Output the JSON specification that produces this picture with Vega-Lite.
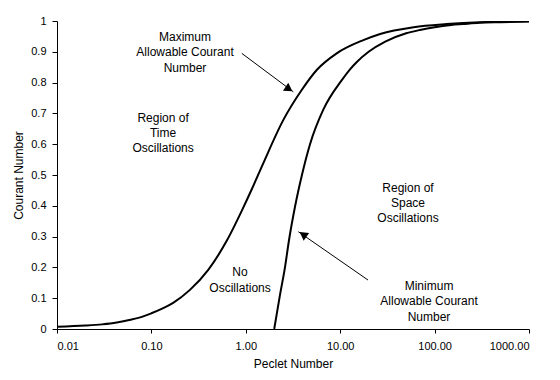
{
  "$schema": "https://vega.github.io/schema/vega-lite/v6.json",
  "width": 472,
  "height": 308,
  "autosize": "none",
  "padding": {"left": 57, "top": 21, "right": 31, "bottom": 51},
  "background": "white",
  "config": {
    "view": {"stroke": null},
    "font": "Liberation Sans",
    "axis": {
      "domainColor": "black", "tickColor": "black", "labelColor": "black", "titleColor": "black",
      "labelFont": "Liberation Sans", "titleFont": "Liberation Sans",
      "labelFontSize": 11, "titleFontSize": 12, "titleFontWeight": "normal",
      "grid": false, "domainWidth": 1, "tickWidth": 1, "labelOverlap": false
    }
  },
  "datasets": {
    "curves": [
      {"g": "max", "P": 0.01, "C": 0.007},
      {"g": "max", "P": 0.02, "C": 0.011},
      {"g": "max", "P": 0.03, "C": 0.015},
      {"g": "max", "P": 0.043, "C": 0.021},
      {"g": "max", "P": 0.06, "C": 0.03},
      {"g": "max", "P": 0.082, "C": 0.041},
      {"g": "max", "P": 0.1, "C": 0.051},
      {"g": "max", "P": 0.13, "C": 0.066},
      {"g": "max", "P": 0.17, "C": 0.085},
      {"g": "max", "P": 0.256, "C": 0.127},
      {"g": "max", "P": 0.4, "C": 0.192},
      {"g": "max", "P": 0.63, "C": 0.287},
      {"g": "max", "P": 0.94, "C": 0.394},
      {"g": "max", "P": 1.15, "C": 0.452},
      {"g": "max", "P": 1.53, "C": 0.538},
      {"g": "max", "P": 2.5, "C": 0.679},
      {"g": "max", "P": 3.91, "C": 0.776},
      {"g": "max", "P": 5.64, "C": 0.841},
      {"g": "max", "P": 9.18, "C": 0.895},
      {"g": "max", "P": 17.6, "C": 0.938},
      {"g": "max", "P": 26.5, "C": 0.958},
      {"g": "max", "P": 60, "C": 0.98},
      {"g": "max", "P": 134, "C": 0.99},
      {"g": "max", "P": 300, "C": 0.996},
      {"g": "max", "P": 1000, "C": 0.999},
      {"g": "min", "P": 2.0, "C": 0.0},
      {"g": "min", "P": 2.3, "C": 0.11},
      {"g": "min", "P": 2.6, "C": 0.2},
      {"g": "min", "P": 2.87, "C": 0.289},
      {"g": "min", "P": 3.32, "C": 0.397},
      {"g": "min", "P": 3.91, "C": 0.497},
      {"g": "min", "P": 4.79, "C": 0.6},
      {"g": "min", "P": 6.62, "C": 0.712},
      {"g": "min", "P": 10.4, "C": 0.808},
      {"g": "min", "P": 12.7, "C": 0.843},
      {"g": "min", "P": 15, "C": 0.867},
      {"g": "min", "P": 20, "C": 0.9},
      {"g": "min", "P": 30, "C": 0.933},
      {"g": "min", "P": 50, "C": 0.96},
      {"g": "min", "P": 70, "C": 0.971},
      {"g": "min", "P": 100, "C": 0.98},
      {"g": "min", "P": 150, "C": 0.987},
      {"g": "min", "P": 200, "C": 0.99},
      {"g": "min", "P": 300, "C": 0.994},
      {"g": "min", "P": 500, "C": 0.996},
      {"g": "min", "P": 1000, "C": 0.998}
    ],
    "labels": [
      {"P": 0.227, "C": 0.948, "t": "Maximum"},
      {"P": 0.227, "C": 0.899, "t": "Allowable Courant"},
      {"P": 0.227, "C": 0.849, "t": "Number"},
      {"P": 0.133, "C": 0.685, "t": "Region of"},
      {"P": 0.133, "C": 0.636, "t": "Time"},
      {"P": 0.133, "C": 0.588, "t": "Oscillations"},
      {"P": 0.869, "C": 0.185, "t": "No"},
      {"P": 0.869, "C": 0.133, "t": "Oscillations"},
      {"P": 52.3, "C": 0.458, "t": "Region of"},
      {"P": 52.3, "C": 0.409, "t": "Space"},
      {"P": 52.3, "C": 0.360, "t": "Oscillations"},
      {"P": 87.3, "C": 0.140, "t": "Minimum"},
      {"P": 87.3, "C": 0.091, "t": "Allowable Courant"},
      {"P": 87.3, "C": 0.039, "t": "Number"}
    ],
    "arrows": [
      {"g": "max", "P": 0.906, "C": 0.895},
      {"g": "max", "P": 3.19, "C": 0.77},
      {"g": "min", "P": 19.7, "C": 0.159},
      {"g": "min", "P": 3.6, "C": 0.316}
    ],
    "heads": [
      {"P": 2.87, "C": 0.779, "ang": 124},
      {"P": 4.04, "C": 0.307, "ang": 305}
    ]
  },
  "encoding": {
    "x": {
      "field": "P", "type": "quantitative",
      "scale": {"type": "log", "domain": [0.01, 1000], "nice": false},
      "axis": {
        "values": [0.01, 0.1, 1, 10, 100, 1000], "format": ".2f", "labelOverlap": false,
        "title": "Peclet Number", "tickSize": 4, "labelPadding": 7, "titlePadding": 7
      }
    },
    "y": {
      "field": "C", "type": "quantitative",
      "scale": {"domain": [0, 1], "nice": false},
      "axis": {
        "values": [0, 0.1, 0.2, 0.3, 0.4, 0.5, 0.6, 0.7, 0.8, 0.9, 1],
        "format": "~g", "labelOverlap": false,
        "title": "Courant Number", "tickSize": 5, "labelPadding": 6, "titlePadding": 5
      }
    }
  },
  "layer": [
    {
      "data": {"name": "curves"},
      "mark": {"type": "line", "color": "black", "strokeWidth": 2, "clip": true, "interpolate": "monotone"},
      "encoding": {"detail": {"field": "g"}}
    },
    {
      "data": {"name": "arrows"},
      "mark": {"type": "line", "color": "black", "strokeWidth": 1},
      "encoding": {"detail": {"field": "g"}}
    },
    {
      "data": {"name": "heads"},
      "mark": {"type": "point", "shape": "triangle-up", "filled": true, "color": "black", "opacity": 1, "size": 90},
      "encoding": {
        "angle": {"field": "ang", "type": "quantitative", "scale": null}
      }
    },
    {
      "data": {"name": "labels"},
      "mark": {"type": "text", "align": "center", "baseline": "middle", "font": "Liberation Sans", "fontSize": 12, "color": "black"},
      "encoding": {
        "text": {"field": "t"}
      }
    }
  ]
}
